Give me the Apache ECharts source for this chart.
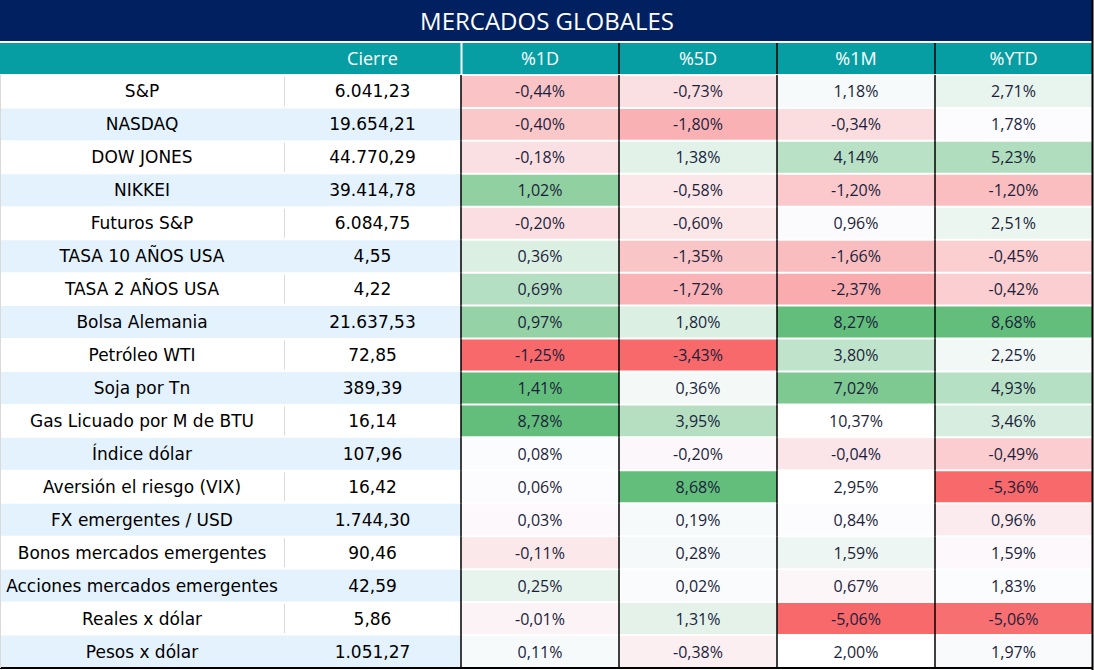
<!DOCTYPE html>
<html>
<head>
<meta charset="utf-8">
<script src="https://cdn.jsdelivr.net/npm/echarts@6.0.0/dist/echarts.min.js"></script>
<style>
html, body { margin: 0; padding: 0; background: #ffffff; }
#chart { width: 1094px; height: 670px; }
</style>
</head>
<body>
<div id="chart"></div>
<script>
// ---------- DATA ----------
const titulo = 'MERCADOS GLOBALES';
const encabezados = ['', 'Cierre', '%1D', '%5D', '%1M', '%YTD'];
const activos = [
  'S&P', 'NASDAQ', 'DOW JONES', 'NIKKEI', 'Futuros S&P', 'TASA 10 AÑOS USA',
  'TASA 2 AÑOS USA', 'Bolsa Alemania', 'Petróleo WTI', 'Soja por Tn',
  'Gas Licuado por M de BTU', 'Índice dólar', 'Aversión el riesgo (VIX)',
  'FX emergentes / USD', 'Bonos mercados emergentes', 'Acciones mercados emergentes',
  'Reales x dólar', 'Pesos x dólar'
];
const cierre = [6041.23, 19654.21, 44770.29, 39414.78, 6084.75, 4.55, 4.22, 21637.53, 72.85,
  389.39, 16.14, 107.96, 16.42, 1744.30, 90.46, 42.59, 5.86, 1051.27];
const var1D = [-0.44, -0.40, -0.18, 1.02, -0.20, 0.36, 0.69, 0.97, -1.25, 1.41, 8.78, 0.08,
  0.06, 0.03, -0.11, 0.25, -0.01, 0.11];
const var5D = [-0.73, -1.80, 1.38, -0.58, -0.60, -1.35, -1.72, 1.80, -3.43, 0.36, 3.95, -0.20,
  8.68, 0.19, 0.28, 0.02, 1.31, -0.38];
const var1M = [1.18, -0.34, 4.14, -1.20, 0.96, -1.66, -2.37, 8.27, 3.80, 7.02, 10.37, -0.04,
  2.95, 0.84, 1.59, 0.67, -5.06, 2.00];
const varYTD = [2.71, 1.78, 5.23, -1.20, 2.51, -0.45, -0.42, 8.68, 2.25, 4.93, 3.46, -0.49,
  -5.36, 0.96, 1.59, 1.83, -5.06, 1.97];

// ---------- LAYOUT / STYLE CONFIG ----------
const anchoCol = [284, 177, 158, 158, 158, 157];
// colour-scale anchors per % column (min -> red, mid -> white, max -> green)
const escalas = [
  { min: -1.25, mid: 0.07, max: 1.41 },
  { min: -3.43, mid: -0.09, max: 8.68 },
  { min: -5.06, mid: 0.90, max: 8.27 },
  { min: -5.36, mid: 1.80, max: 8.68 }
];
// cells that carry no colour scale in the source table: [pctColumn, assetName]
const sinFormato = [[2, 'Gas Licuado por M de BTU'], [2, 'Aversión el riesgo (VIX)'], [2, 'Pesos x dólar']];

const C_NAVY = '#002060', C_TEAL = '#079EA3', C_BLUE = '#E4F2FD';
const FONT_NAME = '"DejaVu Sans", sans-serif';
const FONT_NUM = '"Open Sans", sans-serif';

// ---------- HELPERS ----------
const edges = [0];
anchoCol.forEach(w => edges.push(edges[edges.length - 1] + w));
const totalW = edges[edges.length - 1];

function fmtNum(v) {
  const parts = v.toFixed(2).split('.');
  return parts[0].replace(/\B(?=(\d{3})+(?!\d))/g, '.') + ',' + parts[1];
}
function fmtPct(v) { return v.toFixed(2).replace('.', ',') + '%'; }
function puntaje(v, e) {
  if (v >= e.mid) return Math.min(1, (v - e.mid) / (e.max - e.mid));
  return Math.max(-1, (v - e.mid) / (e.mid - e.min));
}
function celda(api, col, row) {
  const x0 = api.coord([edges[col], row])[0];
  const x1 = api.coord([edges[col + 1], row])[0];
  const yc = api.coord([0, row])[1];
  const h = api.size([0, 1])[1];
  return { x0, x1, yc, h, y0: yc - h / 2, y1: yc + h / 2 };
}

const filas = ['encabezado'].concat(activos);
const nFilas = filas.length;

const headerData = encabezados.map((t, i) => ({ value: [i, 0], texto: t }));

const labelData = [];
activos.forEach((a, r) => {
  labelData.push({ value: [0, r + 1], texto: a });
  labelData.push({ value: [1, r + 1], texto: fmtNum(cierre[r]) });
});

const pctSeries = [var1D, var5D, var1M, varYTD];
const pctData = [];
pctSeries.forEach((arr, c) => {
  arr.forEach((v, r) => {
    const excl = sinFormato.some(s => s[0] === c && s[1] === activos[r]);
    pctData.push({ value: [c + 2, r + 1, puntaje(v, escalas[c])], texto: fmtPct(v), escalado: !excl });
  });
});

const chart = echarts.init(document.getElementById('chart'), null, { renderer: 'svg' });

const option = {
  backgroundColor: '#ffffff',
  animation: false,
  title: {
    text: titulo,
    left: 'center',
    top: 3,
    textStyle: { color: '#ffffff', fontSize: 24, fontWeight: 'normal', fontFamily: FONT_NUM }
  },
  graphic: [
    { type: 'rect', left: 0, top: 0, z: -1, shape: { x: 0, y: 0, width: totalW, height: 41 }, style: { fill: C_NAVY } },
    { type: 'line', z: 100, shape: { x1: totalW + 0.5, y1: 0, x2: totalW + 0.5, y2: 670 }, style: { stroke: '#000000', lineWidth: 2 } },
    { type: 'line', z: 100, shape: { x1: 0.5, y1: 75, x2: 0.5, y2: 668 }, style: { stroke: '#D9D9D9', lineWidth: 1 } }
  ],
  grid: { left: 0, top: 42, width: totalW, height: 626 },
  xAxis: { type: 'value', min: 0, max: totalW, show: false },
  yAxis: { type: 'category', data: filas, inverse: true, show: false },
  visualMap: {
    show: false,
    type: 'continuous',
    seriesIndex: 2,
    dimension: 2,
    min: -1,
    max: 1,
    inRange: { color: ['#F8696B', '#FCFCFF', '#63BE7B'] }
  },
  series: [
    {
      type: 'custom',
      name: 'encabezado',
      data: headerData,
      renderItem(params, api) {
        const col = api.value(0), row = api.value(1);
        const b = celda(api, col, row);
        const item = headerData[params.dataIndex];
        const left = col === 2 ? b.x0 + 1.5 : b.x0;
        const right = col === 1 ? b.x1 - 0.5 : b.x1;
        const children = [
          { type: 'rect', shape: { x: left, y: b.y0 + 1, width: right - left, height: b.h - 2 }, style: { fill: C_TEAL } },
          { type: 'text', style: { text: item.texto, x: (b.x0 + b.x1) / 2, y: b.yc, align: 'center', verticalAlign: 'middle', fill: '#ffffff', font: '18px ' + FONT_NUM } }
        ];
        if (col >= 3) {
          children.push({ type: 'line', shape: { x1: b.x0, y1: b.y0 + 1, x2: b.x0, y2: b.y1 - 1 }, style: { stroke: '#000000', lineWidth: 1.5 } });
        }
        return { type: 'group', children };
      }
    },
    {
      type: 'custom',
      name: 'activos',
      data: labelData,
      renderItem(params, api) {
        const col = api.value(0), row = api.value(1);
        const b = celda(api, col, row);
        const item = labelData[params.dataIndex];
        const azul = row % 2 === 0;
        const children = [
          { type: 'rect', shape: { x: b.x0, y: b.y0 + 0.5, width: b.x1 - b.x0, height: b.h - 1 }, style: { fill: azul ? C_BLUE : '#ffffff' } },
          { type: 'text', style: { text: item.texto, x: (b.x0 + b.x1) / 2, y: b.yc, align: 'center', verticalAlign: 'middle', fill: '#000000', font: '17px ' + FONT_NAME } }
        ];
        if (col === 1 && !azul) {
          children.push({ type: 'line', shape: { x1: b.x0 + 0.5, y1: b.y0 + 2, x2: b.x0 + 0.5, y2: b.y1 - 2 }, style: { stroke: '#D9D9D9', lineWidth: 1 } });
        }
        if (row === nFilas - 1) {
          children.push({ type: 'line', shape: { x1: b.x0, y1: b.y1, x2: b.x1, y2: b.y1 }, style: { stroke: '#000000', lineWidth: 2 } });
        }
        return { type: 'group', children };
      }
    },
    {
      type: 'custom',
      name: 'variaciones',
      data: pctData,
      renderItem(params, api) {
        const col = api.value(0), row = api.value(1);
        const b = celda(api, col, row);
        const item = pctData[params.dataIndex];
        const fill = item.escalado ? api.visual('color') : '#ffffff';
        const children = [
          { type: 'rect', shape: { x: b.x0, y: b.y0 + 1, width: b.x1 - b.x0, height: b.h - 2 }, style: { fill } },
          { type: 'text', style: { text: item.texto, x: (b.x0 + b.x1) / 2, y: b.yc, align: 'center', verticalAlign: 'middle', fill: '#1B1F3B', font: '16px ' + FONT_NUM } },
          { type: 'line', shape: { x1: b.x0, y1: b.y0, x2: b.x0, y2: b.y1 }, style: { stroke: '#000000', lineWidth: 1.5 } }
        ];
        if (row === nFilas - 1) {
          children.push({ type: 'line', shape: { x1: b.x0, y1: b.y1, x2: b.x1, y2: b.y1 }, style: { stroke: '#000000', lineWidth: 2 } });
        }
        return { type: 'group', children };
      }
    }
  ]
};
chart.setOption(option);
</script>
</body>
</html>
